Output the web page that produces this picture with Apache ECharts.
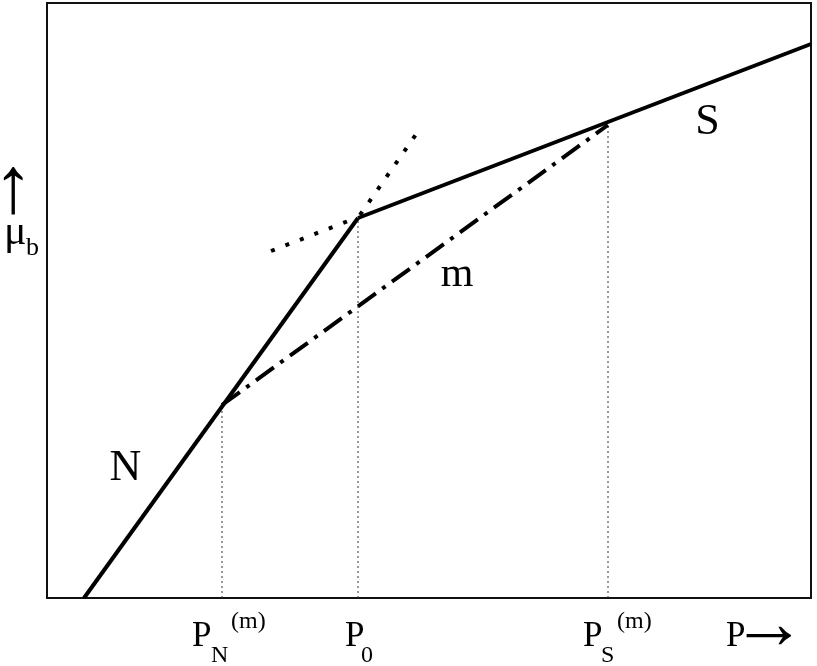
<!DOCTYPE html>
<html><head><meta charset="utf-8">
<script src="https://cdn.jsdelivr.net/npm/echarts@6/dist/echarts.min.js"></script>
<style>html,body{margin:0;padding:0;background:#fff}#c{width:817px;height:666px}</style>
</head><body><div id="c"></div>
<script>
// Data (abstract units: x 0..764, y 0..595)
const lineN = [[37, 0], [311, 380]];
const lineS = [[311, 380], [764, 554]];
const lineM = [[175, 193], [561, 473]];
const extN = [[313, 383], [372, 468]];
const extS = [[224, 347], [309, 380]];
const dropPN = [[175, 0], [175, 193]];
const drop0 = [[311, 0], [311, 380]];
const dropPS = [[561, 0], [561, 473]];
const xMin = 0, xMax = 764, yMin = 0, yMax = 595;

const FONT = '"Liberation Serif", "Times New Roman", serif';
const chart = echarts.init(document.getElementById('c'), null, {renderer: 'canvas'});

function solid(d) {
  return {type: 'line', data: d, symbol: 'none', silent: true,
    lineStyle: {color: '#000', width: 4, join: 'round', cap: 'butt'}};
}
function dotted(d) {
  return {type: 'line', data: d, symbol: 'none', silent: true,
    lineStyle: {color: '#000', width: 4, type: [4, 11.5], cap: 'butt'}};
}
function thin(d) {
  return {type: 'line', data: d, symbol: 'none', silent: true,
    lineStyle: {color: '#333', width: 1, type: [2, 3]}};
}

chart.setOption({
  animation: false,
  grid: {left: 47, right: 6, top: 3, bottom: 68, show: true, borderColor: '#111', borderWidth: 2, backgroundColor: 'transparent'},
  xAxis: {type: 'value', min: xMin, max: xMax, axisLine: {show: false}, axisTick: {show: false}, axisLabel: {show: false}, splitLine: {show: false}},
  yAxis: {type: 'value', min: yMin, max: yMax, axisLine: {show: false}, axisTick: {show: false}, axisLabel: {show: false}, splitLine: {show: false}},
  series: [
    thin(dropPN), thin(drop0), thin(dropPS),
    solid(lineN), solid(lineS),
    {type: 'line', data: lineM, symbol: 'none', silent: true,
      lineStyle: {color: '#000', width: 4, type: [22, 8, 4, 8], cap: 'butt'}},
    dotted(extN), dotted(extS)
  ]
});

function t(x, y, text, size, align) {
  return {type: 'text', x: x, y: y, silent: true,
    style: {text: text, font: size + 'px ' + FONT, fill: '#000', align: align || 'left', verticalAlign: 'middle'}};
}
const els = [
  t(125.5, 468, 'N', 44, 'center'),
  t(457, 274.5, 'm', 42, 'center'),
  t(707.5, 122.5, 'S', 44, 'center'),
  // P_N^(m)
  t(192, 636.5, 'P', 35), t(211, 656, 'N', 24), t(231, 622, '(m)', 24),
  // P_0
  t(345, 636.5, 'P', 35), t(361, 656, '0', 24),
  // P_S^(m)
  t(583, 636.5, 'P', 35), t(601, 656, 'S', 24), t(617, 622, '(m)', 24),
  // P ->
  t(726, 636.5, 'P', 35), t(769, 628, '\u2192', 75, 'center'),
  // mu_b
  t(13, 191, '\u2191', 80, 'center'),
  t(4, 233, '\u03bc', 42), t(26, 248, 'b', 26)
];
chart.setOption({graphic: {elements: els}});
</script></body></html>
